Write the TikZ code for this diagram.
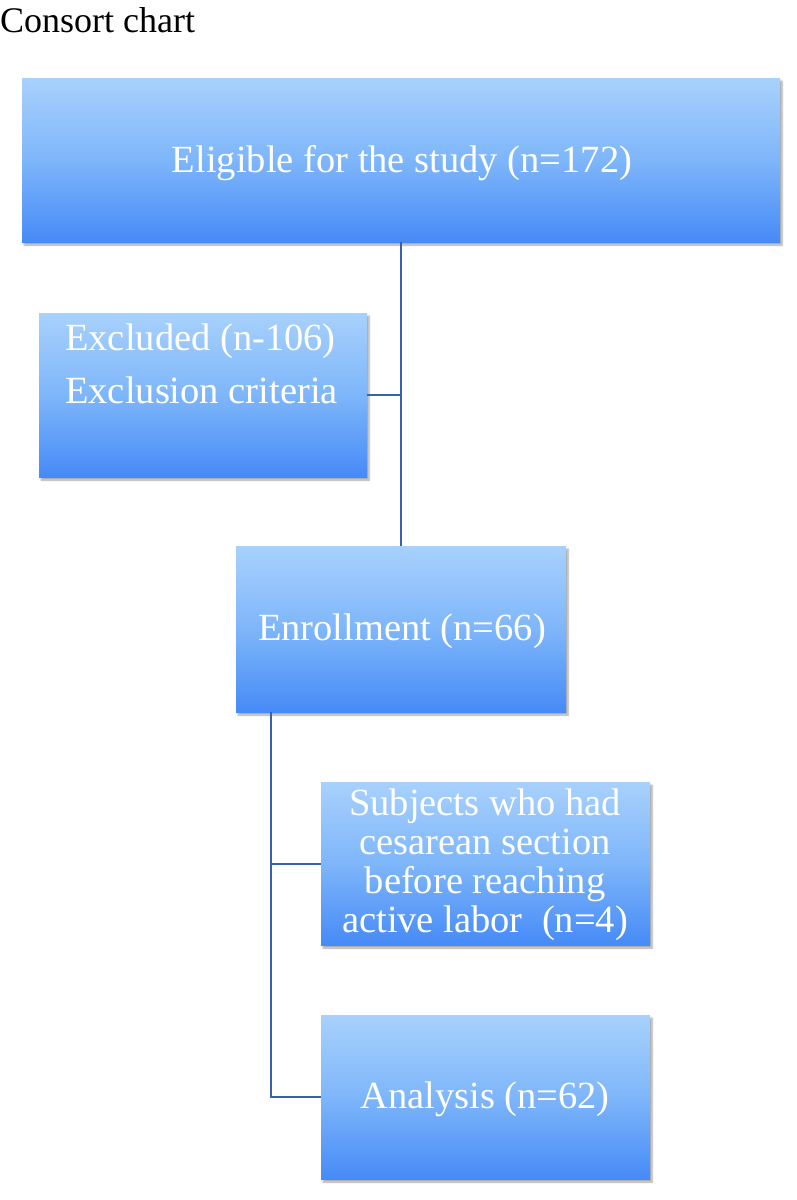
\documentclass[tikz,border=0pt]{standalone}
\usepackage{fontspec}
\setmainfont{Liberation Serif}
\usetikzlibrary{shadows.blur}
\definecolor{boxtop}{RGB}{168,209,252}
\definecolor{boxmid}{RGB}{126,182,250}
\definecolor{boxbot}{RGB}{70,138,247}
\definecolor{linkc}{RGB}{58,98,172}
\tikzset{
  box/.style={rectangle, inner sep=0pt, top color=boxtop, bottom color=boxbot, middle color=boxmid,
    blur shadow={shadow xshift=2pt, shadow yshift=-3pt, shadow blur steps=6, shadow opacity=35}},
  boxtext/.style={text=white, inner sep=0pt, font=\fontsize{38.5}{39}\selectfont},
  link/.style={draw=linkc, line width=2pt},
}
\begin{document}
\begin{tikzpicture}[x=1pt,y=-1pt]
\useasboundingbox (0,0) rectangle (796,1200);
\node[anchor=base west, inner sep=0pt, font=\fontsize{36}{40}\selectfont] (title) at (0,32) {Consort chart};

\node[box, minimum width=758pt, minimum height=164pt] (b1) at (401,160) {};
\node[box, minimum width=328pt, minimum height=164pt] (b2) at (203,395) {};
\node[box, minimum width=330pt, minimum height=166pt] (b3) at (401,629) {};
\node[box, minimum width=329pt, minimum height=163pt] (b4) at (485.5,863.5) {};
\node[box, minimum width=329pt, minimum height=164pt] (b5) at (485.5,1097) {};

\node[boxtext, anchor=base] (t1) at (402,172) {Eligible for the study (n=172)};
\node[boxtext, anchor=base west] (t2) at (65,350) {\parbox[t]{300pt}{\raggedright\fontsize{38.5}{53}\selectfont Excluded (n-106)\\Exclusion criteria}};
\node[boxtext, anchor=base] (t3) at (402,640) {Enrollment (n=66)};
\node[boxtext, anchor=base] (t4) at (485,815) {\parbox[t]{330pt}{\centering\fontsize{38.5}{39}\selectfont Subjects who had\\cesarean section\\before reaching\\active labor~~(n=4)}};
\node[boxtext, anchor=base] (t5) at (485,1108) {Analysis (n=62)};

\draw[link] (b1.south) -- (b3.north);
\draw[link] (b2.east) -- (b2.east -| b1.south);
\coordinate (j) at ([xshift=35pt]b3.south west);
\draw[link] (j) |- (b4.west);
\draw[link] (j) |- (b5.west);
\end{tikzpicture}
\end{document}
